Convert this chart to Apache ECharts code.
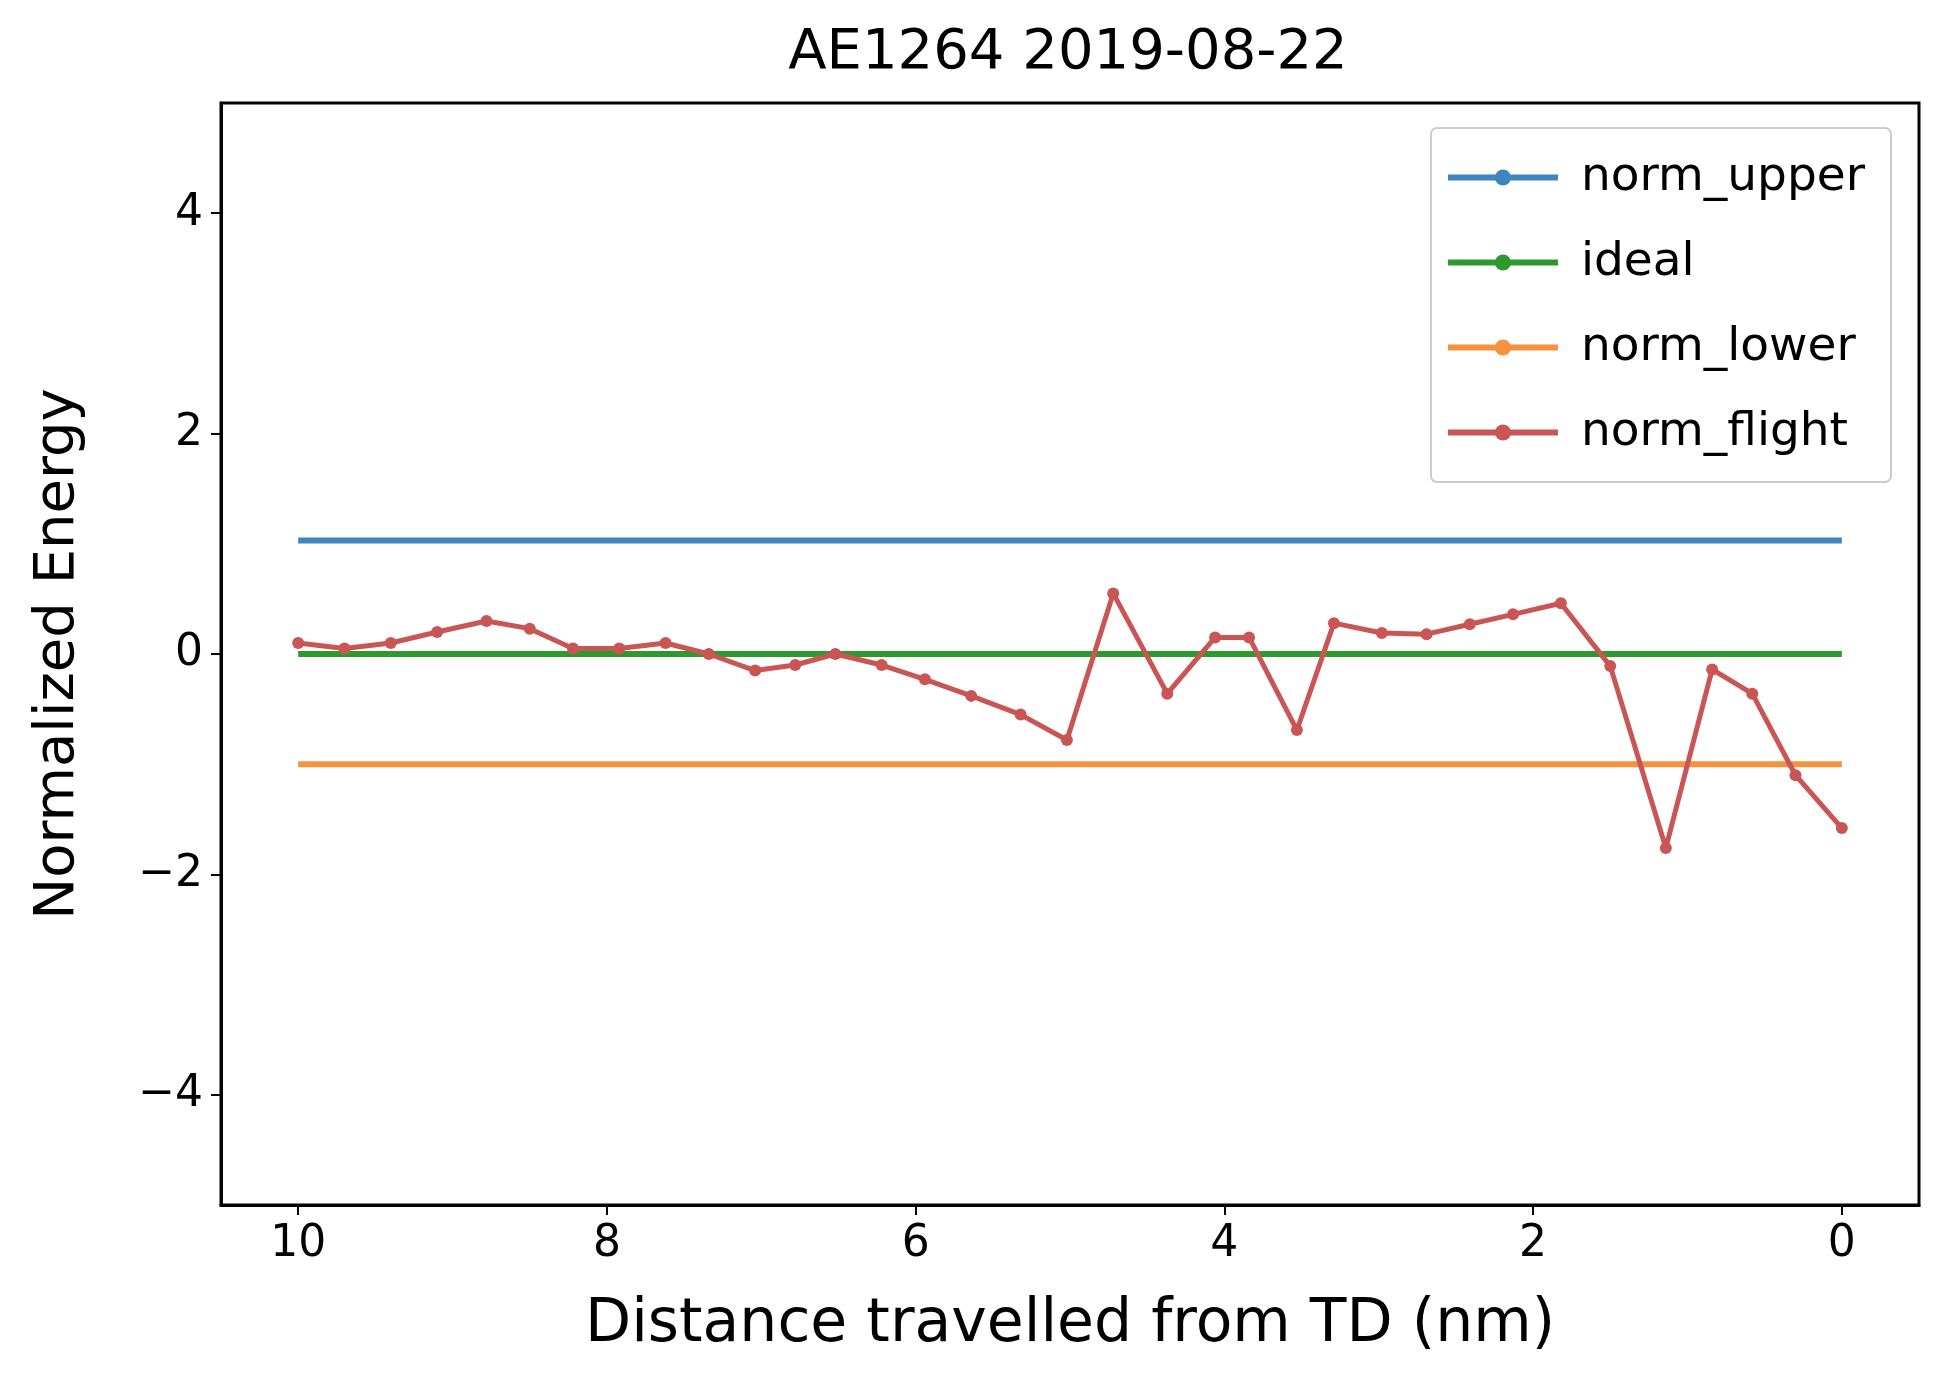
<!DOCTYPE html>
<html>
<head>
<meta charset="utf-8">
<script src="https://cdn.jsdelivr.net/npm/echarts@6/dist/echarts.min.js"></script>
<style>html,body{margin:0;padding:0;background:#fff}#main{width:1933px;height:1392px}</style>
</head>
<body>
<div id="main"></div>
<script>
var distance = [10, 9.70, 9.40, 9.10, 8.78, 8.50, 8.22, 7.92, 7.62, 7.34, 7.04, 6.78, 6.52, 6.22, 5.94,
    5.64, 5.32, 5.02, 4.72, 4.37, 4.06, 3.84, 3.53, 3.29, 2.98, 2.69, 2.41, 2.13, 1.82, 1.50, 1.14,
    0.84, 0.58, 0.30, 0];
var normFlight = [0.1, 0.05, 0.1, 0.2, 0.3, 0.23, 0.05, 0.05, 0.1, 0, -0.15, -0.1, 0, -0.1, -0.23,
    -0.38, -0.55, -0.78, 0.55, -0.36, 0.15, 0.15, -0.69, 0.28, 0.19, 0.18, 0.27, 0.36, 0.46, -0.11, -1.76,
    -0.14, -0.36, -1.1, -1.58];
var lineSpan = [10, 0];
var normUpper = 1.03;
var ideal = 0;
var normLower = -1.0;
var xTicks = [0, 2, 4, 6, 8, 10];
var yTicks = [-4, -2, 0, 2, 4];

var font = "DejaVu Sans";
function pairs(xs, ys) {
    return xs.map(function (x, i) { return [x, ys[i]]; });
}
function flat(v) {
    return lineSpan.map(function (x) { return [x, v]; });
}
function fmt(v) {
    return v < 0 ? "\u2212" + Math.abs(v) : String(v);
}
var chart = echarts.init(document.getElementById("main"));
chart.setOption({
    animation: false,
    textStyle: {fontFamily: font},
    title: {
        text: "AE1264 2019-08-22",
        left: 1063, top: 20, textAlign: "center",
        textStyle: {fontFamily: font, fontSize: 56, fontWeight: "normal", color: "#000"}
    },
    grid: {
        left: 221, right: 14, top: 103, bottom: 187,
        show: true, borderColor: "#000", borderWidth: 3
    },
    legend: {
        orient: "vertical",
        right: 42, top: 128,
        data: ["norm_upper", "ideal", "norm_lower", "norm_flight"],
        itemWidth: 110, itemHeight: 20, itemGap: 38,
        padding: [26, 26, 26, 14],
        borderColor: "#ccc", borderWidth: 2, borderRadius: 6,
        lineStyle: {width: 6},
        textStyle: {fontFamily: font, fontSize: 47, color: "#000", padding: [0, 0, 0, 18]}
    },
    xAxis: {
        type: "value", inverse: true, min: -0.5, max: 10.5,
        name: "Distance travelled from TD (nm)", nameLocation: "middle", nameGap: 90,
        nameTextStyle: {fontFamily: font, fontSize: 60, color: "#000"},
        splitLine: {show: false},
        axisLine: {show: true, onZero: false, lineStyle: {color: "#000", width: 3}},
        axisTick: {show: true, customValues: xTicks, length: 10, lineStyle: {color: "#000", width: 2}},
        axisLabel: {customValues: xTicks, fontSize: 44, color: "#000", margin: 18, formatter: fmt}
    },
    yAxis: {
        type: "value", min: -5, max: 5,
        name: "Normalized Energy", nameLocation: "middle", nameGap: 135,
        nameTextStyle: {fontFamily: font, fontSize: 56, color: "#000"},
        splitLine: {show: false},
        axisLine: {show: true, onZero: false, lineStyle: {color: "#000", width: 3}},
        axisTick: {show: true, customValues: yTicks, length: 10, lineStyle: {color: "#000", width: 2}},
        axisLabel: {customValues: yTicks, fontSize: 44, color: "#000", margin: 18, formatter: fmt}
    },
    series: [
        {name: "norm_upper", type: "line", data: flat(normUpper), symbol: "none",
            lineStyle: {color: "#3f86c0", width: 6}, itemStyle: {color: "#3f86c0"}},
        {name: "ideal", type: "line", data: flat(ideal), symbol: "none",
            lineStyle: {color: "#2e9a2e", width: 6}, itemStyle: {color: "#2e9a2e"}},
        {name: "norm_lower", type: "line", data: flat(normLower), symbol: "none",
            lineStyle: {color: "#f5923e", width: 6}, itemStyle: {color: "#f5923e"}},
        {name: "norm_flight", type: "line", data: pairs(distance, normFlight),
            symbol: "circle", symbolSize: 12,
            lineStyle: {color: "#c95555", width: 5}, itemStyle: {color: "#c95555"}}
    ]
});
</script>
</body>
</html>
